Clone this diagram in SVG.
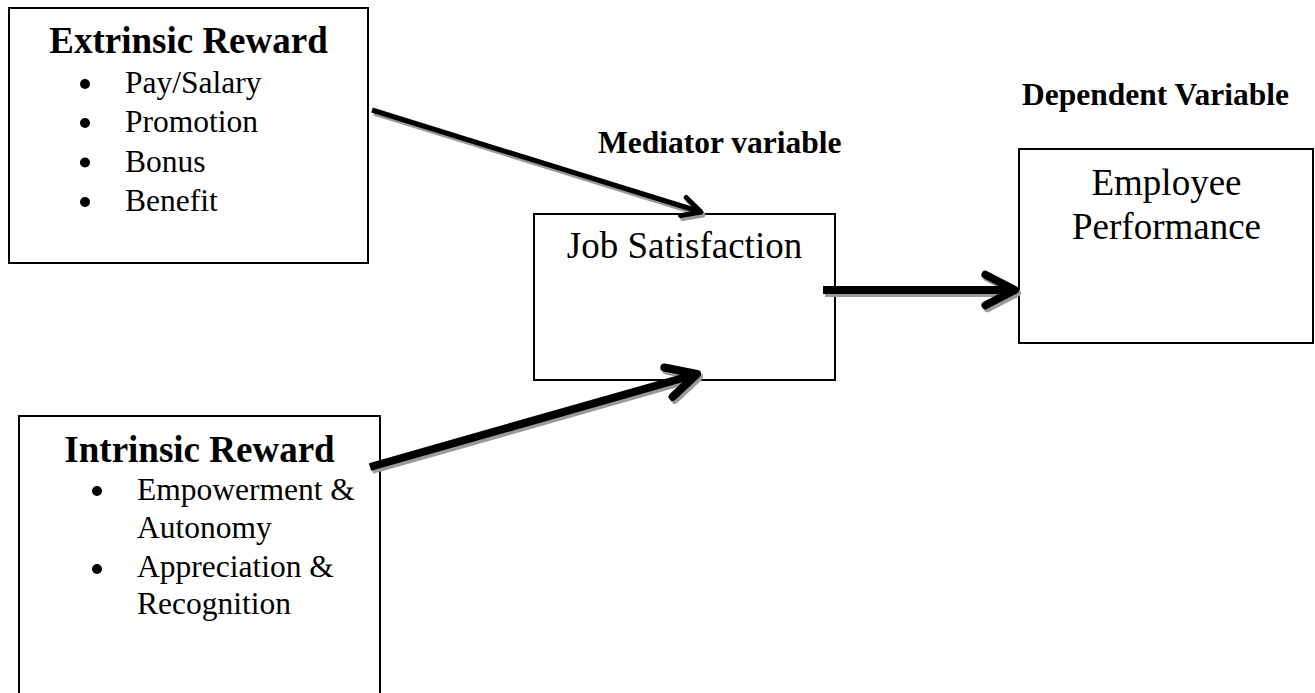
<svg xmlns="http://www.w3.org/2000/svg" width="1315" height="693" viewBox="0 0 1315 693">
<style>
.box{fill:#fff;stroke:#000;stroke-width:2}
.title{font-family:"Liberation Serif","Times New Roman",serif;font-weight:bold;font-size:37px;fill:#000}
.label{font-family:"Liberation Serif","Times New Roman",serif;font-weight:bold;font-size:31.5px;fill:#000}
.item{font-family:"Liberation Serif","Times New Roman",serif;font-size:31.5px;fill:#000}
.big{font-family:"Liberation Serif","Times New Roman",serif;font-size:37px;fill:#000}
.bullet{fill:#000}
.conn{fill:none;stroke:#000;marker-end:url(#head)}
.shadow{fill:none;stroke:#9a9a9a;marker-end:url(#headS)}
</style>
<defs>
<marker id="head" viewBox="-5 -3 6 6" refX="0" refY="0" markerWidth="6" markerHeight="6" markerUnits="strokeWidth" orient="auto" overflow="visible">
<path d="M-3.7,-1.9 L0,0 L-3.7,1.9" fill="none" stroke="#000" stroke-width="1" stroke-linecap="round" stroke-linejoin="round"/>
</marker>
<marker id="headS" viewBox="-5 -3 6 6" refX="0" refY="0" markerWidth="6" markerHeight="6" markerUnits="strokeWidth" orient="auto" overflow="visible">
<path d="M-3.7,-1.9 L0,0 L-3.7,1.9" fill="none" stroke="#9a9a9a" stroke-width="1" stroke-linecap="round" stroke-linejoin="round"/>
</marker>
</defs>
<rect width="1315" height="693" fill="#fff"/>

<g id="extrinsic">
<rect class="box" x="9" y="8" width="359" height="255"/>
<text class="title" x="188.5" y="53" text-anchor="middle">Extrinsic Reward</text>
<circle class="bullet" cx="85" cy="84" r="5"/>
<text class="item" x="125" y="93">Pay/Salary</text>
<circle class="bullet" cx="85" cy="123" r="5"/>
<text class="item" x="125" y="132">Promotion</text>
<circle class="bullet" cx="85" cy="162.5" r="5"/>
<text class="item" x="125" y="171.5">Bonus</text>
<circle class="bullet" cx="85" cy="202" r="5"/>
<text class="item" x="125" y="211">Benefit</text>
</g>

<g id="intrinsic">
<rect class="box" x="19" y="416" width="361" height="290"/>
<text class="title" x="199.5" y="462" text-anchor="middle">Intrinsic Reward</text>
<circle class="bullet" cx="97" cy="491" r="5"/>
<text class="item" x="137" y="500">Empowerment &amp;</text>
<text class="item" x="137" y="538">Autonomy</text>
<circle class="bullet" cx="97" cy="569" r="5"/>
<text class="item" x="137" y="577">Appreciation &amp;</text>
<text class="item" x="137" y="614">Recognition</text>
</g>

<g id="mediator-label">
<text class="label" x="598" y="153">Mediator variable</text>
</g>

<g id="job-satisfaction">
<rect class="box" x="534" y="214" width="301" height="166"/>
<text class="big" x="684.5" y="258" text-anchor="middle">Job Satisfaction</text>
</g>

<g id="dependent-label">
<text class="label" x="1022" y="105">Dependent Variable</text>
</g>

<g id="employee-performance">
<rect class="box" x="1019" y="149" width="294" height="194"/>
<text class="big" x="1166.5" y="195" text-anchor="middle">Employee</text>
<text class="big" x="1166.5" y="239" text-anchor="middle">Performance</text>
</g>

<g id="connectors">
<g transform="translate(2,3)">
<path class="shadow" stroke-width="5" d="M372,110 L701,212"/>
<path class="shadow" stroke-width="8" d="M370,467 L697,374"/>
<path class="shadow" stroke-width="8" d="M823,290 L1015,290"/>
</g>
<path class="conn" stroke-width="5" d="M372,110 L701,212"/>
<path class="conn" stroke-width="8" d="M370,467 L697,374"/>
<path class="conn" stroke-width="8" d="M823,290 L1015,290"/>
</g>
</svg>
